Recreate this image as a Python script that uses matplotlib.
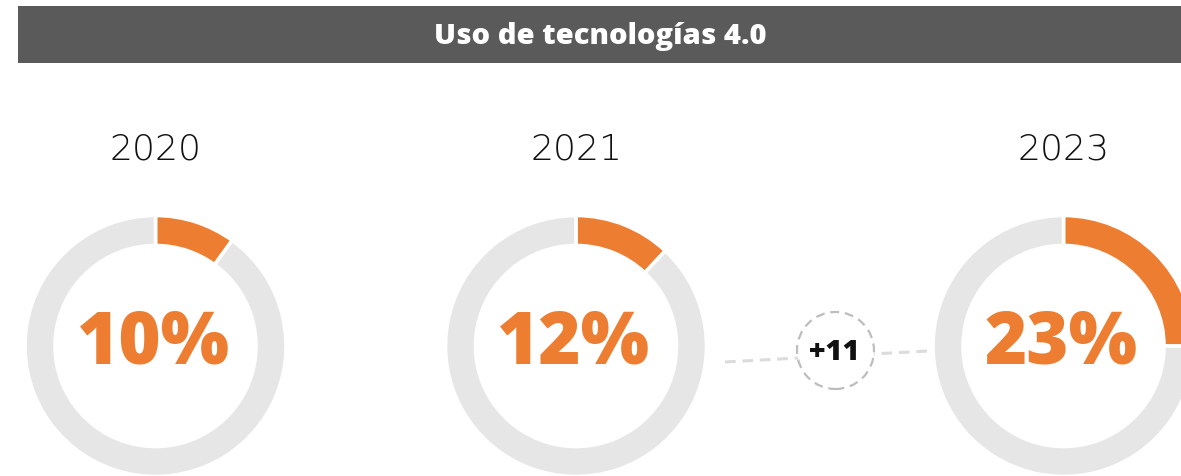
import matplotlib
matplotlib.use("Agg")
import matplotlib.pyplot as plt
from matplotlib.patches import Rectangle, Circle

# ---- data ----
title = "Uso de tecnologías 4.0"
years = ["2020", "2021", "2023"]
pct_labels = [10, 12, 23]          # value printed in each ring
ring_fill = [10, 12, 25]           # share of the ring drawn in orange
change_label = "+11"

# ---- style ----
ORANGE = "#ED7D31"
RING_GRAY = "#E6E6E6"
BAR_GRAY = "#5A5A5A"

W, H = 1181, 476
fig = plt.figure(figsize=(W / 100, H / 100), dpi=100)
ax = fig.add_axes([0, 0, 1, 1])

centers_x = [155.5, 576, 1063.5]
center_y = H - 346
R_OUT, R_W = 130.5, 30

for cx, val, fill in zip(centers_x, pct_labels, ring_fill):
    ax.pie([fill, 100 - fill], center=(cx, center_y), radius=R_OUT,
           colors=[ORANGE, RING_GRAY], startangle=90, counterclock=False,
           wedgeprops=dict(width=R_W, edgecolor="white", linewidth=2.6))
    ax.text(cx - 2, H - 363, f"{val}%", ha="center", va="baseline",
            fontsize=52, fontweight="heavy", family=["Open Sans", "DejaVu Sans"],
            color=ORANGE)

for cx, yr in zip(centers_x, years):
    ax.text(cx + 0.5, H - 159.5, yr, ha="center", va="baseline", fontsize=26,
            fontweight="light", family=["DejaVu Sans"], color="#111111")

# title bar
ax.add_patch(Rectangle((18, H - 63), W, 57, facecolor=BAR_GRAY, edgecolor="none", zorder=5))
ax.text(600, H - 44, title, ha="center", va="baseline", fontsize=21,
        fontweight="heavy", family=["Open Sans", "DejaVu Sans"], color="white", zorder=6)

# connector with change bubble
ax.plot([725, 928], [H - 362, H - 351], color="#DCDCDC", lw=2.2,
        dashes=(3.5, 2.2), zorder=3)
ax.add_patch(Circle((835.5, H - 350.5), 38.5, facecolor="white", edgecolor="#BDBDBD",
                    lw=1.6, linestyle=(0, (4, 2.6)), zorder=4))
ax.text(834, H - 360, change_label, ha="center", va="baseline", fontsize=21,
        fontweight="heavy", family=["Open Sans", "DejaVu Sans"], color="#111111", zorder=5)

ax.set_xlim(0, W)
ax.set_ylim(0, H)
ax.set_aspect("equal")
ax.axis("off")

fig.savefig("out.png", dpi=100, facecolor="white")
